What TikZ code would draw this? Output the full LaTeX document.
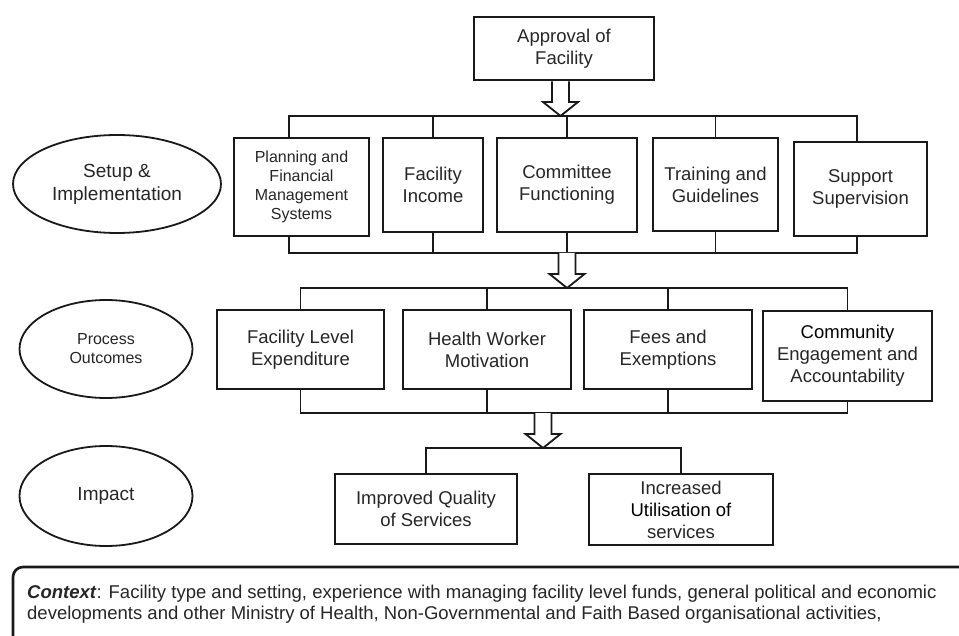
\documentclass[tikz,border=0pt]{standalone}
\usepackage{fontspec}
\setmainfont{Liberation Sans}
\usetikzlibrary{shapes.geometric,calc,positioning}

% open block arrow, drawn from a top point #1 down to its tip #2
\newcommand{\hollowarrow}[2]{%
  \draw[arrowline] ($(#1)+(-8.5,0)$) -- ($(#2)+(-8.5,-14)$) -- ($(#2)+(-17.5,-14)$) -- (#2)
    -- ($(#2)+(17.5,-14)$) -- ($(#2)+(8.5,-14)$) -- ($(#1)+(8.5,0)$);}

\begin{document}
\begin{tikzpicture}[x=1pt, y=-1pt,
  box/.style = {draw=black!90, line width=2.6pt, align=center, inner sep=2pt, text=black!85, font=\fontsize{18.5}{22}\selectfont},
  smallbox/.style = {box, font=\fontsize{16}{19}\selectfont},
  oval/.style = {draw=black!90, ellipse, line width=1.8pt, align=center, inner sep=0pt, text=black!85},
  bus/.style = {draw=black!90, line width=1.8pt},
  arrowline/.style = {draw=black!90, line width=1.8pt, fill=white, line join=miter},
  ctxtext/.style = {align=left, inner sep=0pt, text=black!85, font=\fontsize{18.5}{21}\selectfont}]
\useasboundingbox (0,0) rectangle (959,636);

% levels
\node[oval, minimum width=208pt, minimum height=98pt, font=\fontsize{19}{23}\selectfont] (setup) at (117,184) {Setup \&\\Implementation};
\node[oval, minimum width=173pt, minimum height=98pt, font=\fontsize{16}{19}\selectfont] (process) at (106,349) {Process\\Outcomes};
\node[oval, minimum width=173pt, minimum height=100pt, font=\fontsize{19}{23}\selectfont] (impact) at (106,496) {Impact};

% top
\node[box, minimum width=180pt, minimum height=63pt] (approval) at (564,48.5) {Approval of\\Facility};

% setup and implementation
\node[smallbox, minimum width=135pt, minimum height=98pt] (plan) at (301.5,187) {Planning and\\Financial\\Management\\Systems};
\node[box, minimum width=100pt, minimum height=94pt] (income) at (433,185) {Facility\\Income};
\node[box, minimum width=140pt, minimum height=94pt] (committee) at (567,185) {Committee\\Functioning};
\node[box, minimum width=125pt, minimum height=93pt] (training) at (715.5,184.5) {Training and\\Guidelines};
\node[box, minimum width=133pt, minimum height=94pt] (support) at (860.5,189) {Support\\Supervision};

% process outcomes
\node[box, minimum width=167pt, minimum height=79pt] (fle) at (300.5,349.5) {Facility Level\\Expenditure};
\node[box, minimum width=168pt, minimum height=79pt] (hwm) at (487,349.5) {Health Worker\\Motivation};
\node[box, minimum width=168pt, minimum height=79pt] (fees) at (668,349.5) {Fees and\\Exemptions};
\node[box, minimum width=169pt, minimum height=90pt] (comm) at (847.5,356) {\textcolor{black}{Community}\\Engagement and\\Accountability};

% impact
\node[box, minimum width=182pt, minimum height=70pt] (quality) at (426,509) {Improved Quality\\of Services};
\node[box, minimum width=184pt, minimum height=71pt] (utilisation) at (681,509.5) {Increased\\\textcolor{black}{Utilisation of}\\services};

% arrows between the levels
\coordinate (tip1) at (560.5,116);
\coordinate (top1) at (tip1 |- approval.south);
\coordinate (top2) at (567,253);
\coordinate (tip2) at (567,288);
\coordinate (top3) at (543,413);
\coordinate (tip3) at (543,448);

\draw[bus] ([xshift=-12.5pt]plan.north) |- (tip1) -| ([xshift=-3.5pt]support.north);
\foreach \n in {income,committee,training}
  \draw[bus] (\n.north) -- (\n.north |- tip1);
\draw[bus] ([xshift=-12.5pt]plan.south) |- (top2) -| ([xshift=-3.5pt]support.south);
\foreach \n in {income,committee,training}
  \draw[bus] (\n.south) -- (\n.south |- top2);

\draw[bus] (fle.north) |- (tip2) -| (comm.north);
\foreach \n in {hwm,fees}
  \draw[bus] (\n.north) -- (\n.north |- tip2);
\draw[bus] (fle.south) |- (top3) -| (comm.south);
\foreach \n in {hwm,fees}
  \draw[bus] (\n.south) -- (\n.south |- top3);

\draw[bus] (quality.north) |- (tip3) -| (utilisation.north);

\hollowarrow{top1}{tip1}
\hollowarrow{top2}{tip2}
\hollowarrow{top3}{tip3}

% context
\begin{scope}
\clip (0,0) rectangle (959,636);
\draw[draw=black!90, line width=2.6pt, rounded corners=10pt] (13,567) rectangle (1000,690);
\end{scope}
\node[ctxtext, anchor=west] (context) at (27,604.5) {\textbf{\textit{Context}}: Facility type and setting, experience with managing facility level funds, general political and economic\\developments and other Ministry of Health, Non-Governmental and Faith Based organisational activities,};
\end{tikzpicture}
\end{document}
